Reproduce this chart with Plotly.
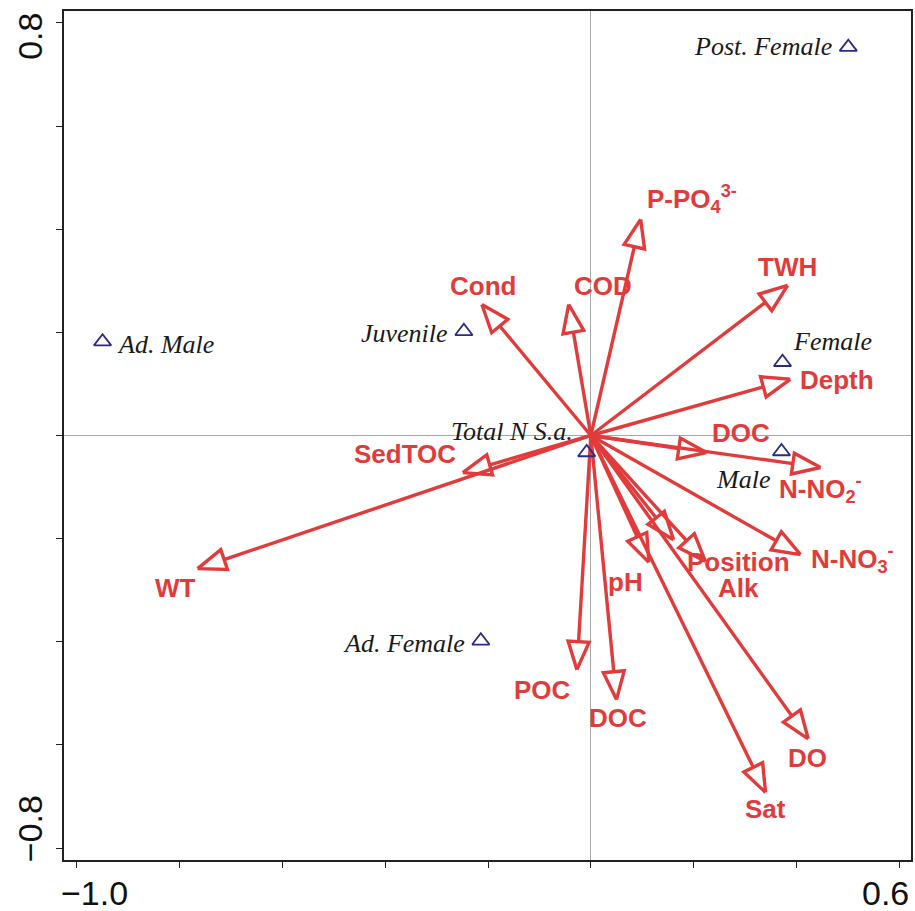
import numpy as np
import plotly.graph_objects as go

# Environmental variable biplot vectors (axis 1, axis 2)
env_keys = ["P-PO4", "TWH", "Depth", "COD", "Cond", "SedTOC", "WT", "DOC_a",
            "N-NO2", "N-NO3", "Position", "Alk", "pH", "POC", "DOC_b", "DO", "Sat"]
env_x = [0.097, 0.383, 0.388, -0.043, -0.212, -0.249, -0.765, 0.225,
         0.447, 0.408, 0.223, 0.161, 0.113, -0.027, 0.050, 0.423, 0.340]
env_y = [0.419, 0.291, 0.109, 0.254, 0.254, -0.072, -0.258, -0.033,
         -0.062, -0.231, -0.244, -0.202, -0.246, -0.454, -0.512, -0.588, -0.692]
env_text = ["P-PO<sub>4</sub><sup>3-</sup>", "TWH", "Depth", "COD", "Cond", "SedTOC", "WT", "DOC",
            "N-NO<sub>2</sub><sup>-</sup>", "N-NO<sub>3</sub><sup>-</sup>", "Position", "Alk", "pH",
            "POC", "DOC", "DO", "Sat"]

# Life-stage / sex group scores
grp_names = ["Post. Female", "Female", "Male", "Total N S.a.", "Juvenile", "Ad. Male", "Ad. Female"]
grp_x = [0.501, 0.373, 0.371, -0.008, -0.247, -0.950, -0.214]
grp_y = [0.753, 0.142, -0.031, -0.033, 0.202, 0.182, -0.398]

# Axis ticks
tick_vals_x = [-1.0, -0.8, -0.6, -0.4, -0.2, 0.0, 0.2, 0.4, 0.6]
tick_vals_y = [-0.8, -0.6, -0.4, -0.2, 0.0, 0.2, 0.4, 0.6, 0.8]
x_end_labels = ["−1.0", "0.6"]
y_end_labels = ["−0.8", "0.8"]

# ---- layout geometry ----
W, H = 915, 911
ML, MR, MT, MB = 64, 2, 11, 51
XR = [-1.025, 0.623]
YR = [-0.823, 0.823]
plot_w = W - ML - MR
plot_h = H - MT - MB
sx = plot_w / (XR[1] - XR[0])   # px per data unit
sy = plot_h / (YR[1] - YR[0])

RED = "#E23B3B"
NAVY = "#2D2A86"
HEAD_LEN = 28.0   # px
HEAD_HALF = 10.5  # px

# label placement (pixel offsets from the arrow tip / marker)
env_label_style = {
    "P-PO4": dict(xshift=4, yshift=20, xanchor="left"),
    "TWH": dict(xshift=0, yshift=18, xanchor="center"),
    "Depth": dict(xshift=8, yshift=-1, xanchor="left"),
    "COD": dict(xshift=34, yshift=18, xanchor="center"),
    "Cond": dict(xshift=1, yshift=18, xanchor="center"),
    "SedTOC": dict(xshift=-58, yshift=19, xanchor="center"),
    "WT": dict(xshift=-22, yshift=-19, xanchor="center"),
    "DOC_a": dict(xshift=35, yshift=20, xanchor="center"),
    "N-NO2": dict(xshift=-44, yshift=-22, xanchor="left"),
    "N-NO3": dict(xshift=8, yshift=-4, xanchor="left"),
    "Position": dict(xshift=33, yshift=-1, xanchor="center"),
    "Alk": dict(xshift=65, yshift=-48, xanchor="center"),
    "pH": dict(xshift=-23, yshift=-20, xanchor="center"),
    "POC": dict(xshift=-34, yshift=-20, xanchor="center"),
    "DOC_b": dict(xshift=1, yshift=-18, xanchor="center"),
    "DO": dict(xshift=-1, yshift=-19, xanchor="center"),
    "Sat": dict(xshift=0, yshift=-17, xanchor="center"),
}
grp_label_style = {
    "Post. Female": dict(xshift=-14, yshift=1, xanchor="right"),
    "Female": dict(xshift=50, yshift=21, xanchor="center"),
    "Male": dict(xshift=-38, yshift=-28, xanchor="center"),
    "Total N S.a.": dict(xshift=-75, yshift=21, xanchor="center"),
    "Juvenile": dict(xshift=-14, yshift=-2, xanchor="right"),
    "Ad. Male": dict(xshift=12, yshift=-3, xanchor="left"),
    "Ad. Female": dict(xshift=-14, yshift=-3, xanchor="right"),
}

# ---- arrow shafts and open heads ----
shaft_x, shaft_y, head_x, head_y = [], [], [], []
for x, y in zip(env_x, env_y):
    px, py = x * sx, y * sy
    L = np.hypot(px, py)
    ux, uy = px / L, py / L
    nx, ny = -uy, ux
    bx, by = px - HEAD_LEN * ux, py - HEAD_LEN * uy
    shaft_x += [0, bx / sx, None]
    shaft_y += [0, by / sy, None]
    corners = [(px, py),
               (bx + HEAD_HALF * nx, by + HEAD_HALF * ny),
               (bx - HEAD_HALF * nx, by - HEAD_HALF * ny),
               (px, py)]
    head_x += [c[0] / sx for c in corners] + [None]
    head_y += [c[1] / sy for c in corners] + [None]

fig = go.Figure()
fig.add_trace(go.Scatter(x=shaft_x, y=shaft_y, mode="lines",
                         line=dict(color=RED, width=3.4), hoverinfo="skip", showlegend=False))
fig.add_trace(go.Scatter(x=head_x, y=head_y, mode="lines",
                         line=dict(color=RED, width=3.4, shape="linear"), hoverinfo="skip", showlegend=False))
fig.add_trace(go.Scatter(x=grp_x, y=grp_y, mode="markers",
                         marker=dict(symbol="triangle-up-open", size=15, color=NAVY, line=dict(width=1.8, color=NAVY)),
                         hovertext=grp_names, showlegend=False))

annotations = []
for key, x, y, txt in zip(env_keys, env_x, env_y, env_text):
    st = env_label_style[key]
    annotations.append(dict(x=x, y=y, xref="x", yref="y", text="<b>" + txt + "</b>", showarrow=False,
                            xshift=st["xshift"], yshift=st["yshift"], xanchor=st["xanchor"], yanchor="middle",
                            font=dict(family="Arial, Liberation Sans, sans-serif", size=26, color=RED)))
for name, x, y in zip(grp_names, grp_x, grp_y):
    st = grp_label_style[name]
    annotations.append(dict(x=x, y=y, xref="x", yref="y", text="<i>" + name + "</i>", showarrow=False,
                            xshift=st["xshift"], yshift=st["yshift"], xanchor=st["xanchor"], yanchor="middle",
                            font=dict(family="Times New Roman, Liberation Serif, serif", size=26, color="#1a1a1a")))

# end-of-axis value labels
tick_font = dict(family="Arial, Liberation Sans, sans-serif", size=34, color="#111111")
for val, txt, shift in zip([tick_vals_x[0], tick_vals_x[-1]], x_end_labels, [18, -14]):
    annotations.append(dict(x=val, y=0, xref="x", yref="paper", text=txt, showarrow=False,
                            xshift=shift, yshift=-33, xanchor="center", yanchor="middle", font=tick_font))
for val, txt, shift in zip([tick_vals_y[0], tick_vals_y[-1]], y_end_labels, [19, -14]):
    annotations.append(dict(x=0, y=val, xref="paper", yref="y", text=txt, showarrow=False, textangle=-90,
                            xshift=-34, yshift=shift, xanchor="center", yanchor="middle", font=tick_font))

axis_common = dict(showgrid=False, zeroline=True, zerolinecolor="#A8A8A8", zerolinewidth=1,
                   showline=True, linecolor="#222222", linewidth=1.5, mirror=True,
                   ticks="outside", ticklen=6, tickwidth=1.2, tickcolor="#222222",
                   showticklabels=False, fixedrange=True)

fig.update_layout(
    width=W, height=H,
    margin=dict(l=ML, r=MR, t=MT, b=MB),
    paper_bgcolor="white", plot_bgcolor="white",
    xaxis=dict(range=XR, tickvals=tick_vals_x, **axis_common),
    yaxis=dict(range=YR, tickvals=tick_vals_y, **axis_common),
    annotations=annotations,
)

fig.write_html("out.html")
